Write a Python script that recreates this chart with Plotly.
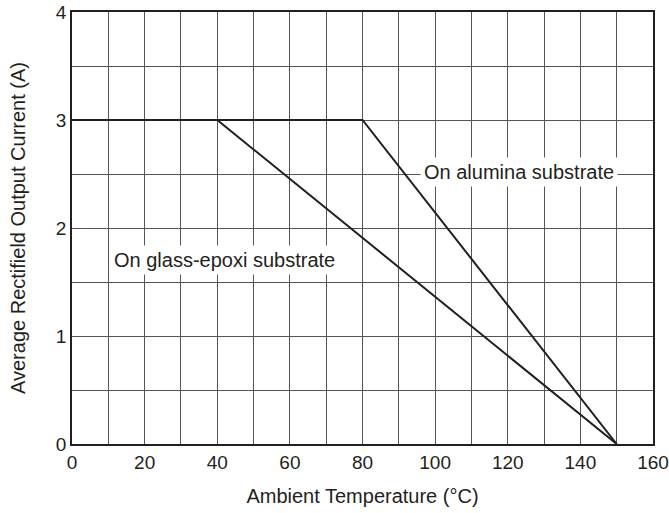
import plotly.graph_objects as go

alumina_x = [0, 80, 150]
alumina_y = [3, 3, 0]
glass_x = [0, 40, 150]
glass_y = [3, 3, 0]

x_ticks = [0, 20, 40, 60, 80, 100, 120, 140, 160]
y_ticks = [0, 1, 2, 3, 4]

line_color = "#231f20"
grid_color = "#555555"
text_color = "#231f20"
font_family = "Liberation Sans, Arial, sans-serif"

fig = go.Figure()
fig.add_trace(go.Scatter(x=alumina_x, y=alumina_y, mode="lines",
                         line=dict(color=line_color, width=2), showlegend=False))
fig.add_trace(go.Scatter(x=glass_x, y=glass_y, mode="lines",
                         line=dict(color=line_color, width=2), showlegend=False))

fig.add_annotation(x=123, y=2.52, text="On alumina substrate", showarrow=False,
                   bgcolor="white", borderpad=3,
                   font=dict(size=20, color=text_color, family=font_family))
fig.add_annotation(x=42, y=1.70, text="On glass-epoxi substrate", showarrow=False,
                   bgcolor="white", borderpad=3,
                   font=dict(size=20, color=text_color, family=font_family))

fig.update_layout(
    width=669, height=513,
    margin=dict(l=72, r=16, t=12, b=69),
    paper_bgcolor="white", plot_bgcolor="white",
    font=dict(family=font_family, size=19, color=text_color),
)
fig.update_xaxes(
    range=[0, 160], tickvals=x_ticks, ticks="", showline=True, mirror=True,
    linecolor=line_color, linewidth=1.5, automargin=False,
    showgrid=True, gridcolor=grid_color, gridwidth=1,
    minor=dict(dtick=10, showgrid=True, gridcolor=grid_color, gridwidth=1),
    zeroline=False, tickfont=dict(size=19),
    title=dict(text="Ambient Temperature (°C)", font=dict(size=20), standoff=17),
)
fig.update_yaxes(
    range=[0, 4], tickvals=y_ticks, ticks="", showline=True, mirror=True,
    linecolor=line_color, linewidth=1.5, automargin=False,
    showgrid=True, gridcolor=grid_color, gridwidth=1,
    minor=dict(dtick=0.5, showgrid=True, gridcolor=grid_color, gridwidth=1),
    zeroline=False, tickfont=dict(size=19),
    title=dict(text="Average Rectifield Output Current (A)", font=dict(size=20), standoff=25),
)

fig.write_html("out.html", config={"displayModeBar": False},
               post_script="document.body.style.margin='0';document.body.style.padding='0';")
